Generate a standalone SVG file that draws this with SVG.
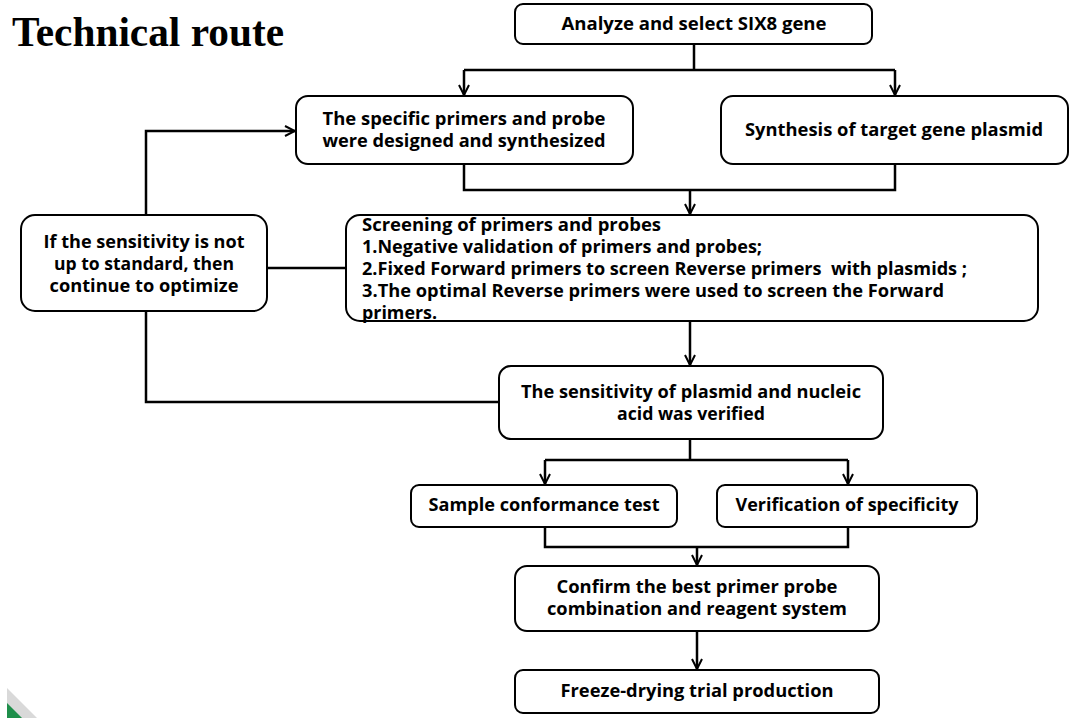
<svg xmlns="http://www.w3.org/2000/svg" width="1071" height="725" viewBox="0 0 1071 725">
<style>
.box{fill:#fff;stroke:#000;stroke-width:2}
.t{font-family:"Open Sans","Noto Sans",sans-serif;font-weight:700;font-size:18px;fill:#000;white-space:pre}
.c{text-anchor:middle}
.ln{fill:none;stroke:#000;stroke-width:2.5}
.title{font-family:"Liberation Serif","Times New Roman",serif;font-weight:700;font-size:43px;fill:#000}
</style>
<defs>
<marker id="ar" viewBox="0 0 12 12" refX="11" refY="6" markerWidth="12" markerHeight="12" markerUnits="userSpaceOnUse" orient="auto">
<path d="M1,1 L11,6 L1,11" fill="none" stroke="#000" stroke-width="2"/>
</marker>
</defs>
<rect width="1071" height="725" fill="#fff"/>
<text class="title" x="12" y="46" textLength="272" lengthAdjust="spacingAndGlyphs">Technical route</text>
<g id="decor">
<polygon points="7,688 37,718 7,718" fill="#d9d9d9"/>
<polygon points="7,703 22,718 7,718" fill="#1e8e4a"/>
</g>
<g id="connectors">
<path class="ln" d="M694,44 V70 M464,70 H895"/>
<path class="ln" d="M464,70 V95" marker-end="url(#ar)"/>
<path class="ln" d="M895,70 V95" marker-end="url(#ar)"/>
<path class="ln" d="M464,164 V190 H895 V164"/>
<path class="ln" d="M690,190 V214" marker-end="url(#ar)"/>
<path class="ln" d="M146,215 V131 H295" marker-end="url(#ar)"/>
<path class="ln" d="M267,268 H346"/>
<path class="ln" d="M146,311 V402 H499"/>
<path class="ln" d="M690,321 V365" marker-end="url(#ar)"/>
<path class="ln" d="M690,439 V460 M545,460 H848"/>
<path class="ln" d="M545,460 V484" marker-end="url(#ar)"/>
<path class="ln" d="M848,460 V484" marker-end="url(#ar)"/>
<path class="ln" d="M545,527 V547 H848 V527"/>
<path class="ln" d="M697,547 V565" marker-end="url(#ar)"/>
<path class="ln" d="M697,631 V669" marker-end="url(#ar)"/>
</g>
<g id="n1">
<rect class="box" x="515" y="4" width="357" height="40" rx="8"/>
<text class="t c" x="694" y="30" textLength="265" lengthAdjust="spacingAndGlyphs">Analyze and select SIX8 gene</text>
</g>
<g id="n2">
<rect class="box" x="296" y="96" width="337" height="68" rx="12"/>
<text class="t c" x="464" y="125" textLength="283" lengthAdjust="spacingAndGlyphs">The specific primers and probe</text>
<text class="t c" x="464" y="147" textLength="283" lengthAdjust="spacingAndGlyphs">were designed and synthesized</text>
</g>
<g id="n3">
<rect class="box" x="721" y="96" width="347" height="68" rx="12"/>
<text class="t c" x="894" y="136" textLength="298" lengthAdjust="spacingAndGlyphs">Synthesis of target gene plasmid</text>
</g>
<g id="n4">
<rect class="box" x="346" y="215" width="692" height="106" rx="14"/>
<text class="t" x="362" y="231" textLength="299" lengthAdjust="spacingAndGlyphs">Screening of primers and probes</text>
<text class="t" x="362" y="253" textLength="400" lengthAdjust="spacingAndGlyphs">1.Negative validation of primers and probes;</text>
<text class="t" x="362" y="275" textLength="605" lengthAdjust="spacingAndGlyphs" xml:space="preserve">2.Fixed Forward primers to screen Reverse primers  with plasmids ;</text>
<text class="t" x="362" y="297" textLength="582" lengthAdjust="spacingAndGlyphs">3.The optimal Reverse primers were used to screen the Forward</text>
<text class="t" x="362" y="319" textLength="75" lengthAdjust="spacingAndGlyphs">primers.</text>
</g>
<g id="n5">
<rect class="box" x="21" y="215" width="246" height="96" rx="14"/>
<text class="t c" x="144" y="248" textLength="201" lengthAdjust="spacingAndGlyphs">If the sensitivity is not</text>
<text class="t c" x="144" y="270" textLength="180" lengthAdjust="spacingAndGlyphs">up to standard, then</text>
<text class="t c" x="144" y="292" textLength="189" lengthAdjust="spacingAndGlyphs">continue to optimize</text>
</g>
<g id="n6">
<rect class="box" x="499" y="366" width="384" height="73" rx="12"/>
<text class="t c" x="691" y="398" textLength="340" lengthAdjust="spacingAndGlyphs">The sensitivity of plasmid and nucleic</text>
<text class="t c" x="691" y="420" textLength="148" lengthAdjust="spacingAndGlyphs">acid was verified</text>
</g>
<g id="n7">
<rect class="box" x="411" y="485" width="266" height="42" rx="8"/>
<text class="t c" x="544" y="511" textLength="231" lengthAdjust="spacingAndGlyphs">Sample conformance test</text>
</g>
<g id="n8">
<rect class="box" x="717" y="485" width="260" height="42" rx="8"/>
<text class="t c" x="847" y="511" textLength="223" lengthAdjust="spacingAndGlyphs">Verification of specificity</text>
</g>
<g id="n9">
<rect class="box" x="515" y="566" width="364" height="65" rx="12"/>
<text class="t c" x="697" y="593" textLength="281" lengthAdjust="spacingAndGlyphs">Confirm the best primer probe</text>
<text class="t c" x="697" y="615" textLength="300" lengthAdjust="spacingAndGlyphs">combination and reagent system</text>
</g>
<g id="n10">
<rect class="box" x="515" y="670" width="364" height="43" rx="8"/>
<text class="t c" x="697" y="697" textLength="273" lengthAdjust="spacingAndGlyphs">Freeze-drying trial production</text>
</g>
</svg>
